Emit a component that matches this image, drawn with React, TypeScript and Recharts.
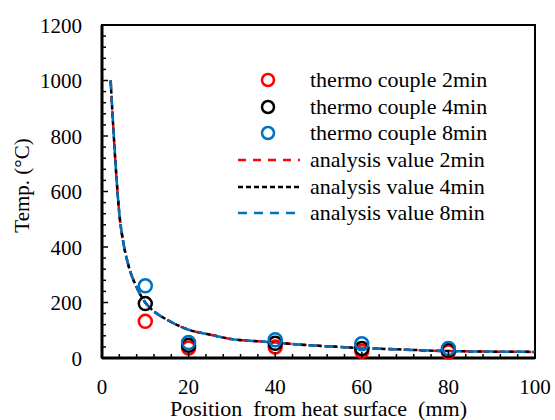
import { ComposedChart, Line, Scatter, XAxis, YAxis, ReferenceArea, Legend, Label } from 'recharts';

const FONT = '"Liberation Serif", Tinos, "DejaVu Serif", serif';

// measured positions (mm) and temperatures (°C)
const probeX = [10, 20, 40, 60, 80];
const couple2min = [132, 36, 40, 24, 22];
const couple4min = [196, 46, 53, 34, 28];
const couple8min = [260, 56, 66, 51, 34];

// analysis curves
const analysisX = [2, 3, 4, 5, 6, 8, 10, 12, 15, 20, 25, 30, 35, 40, 45, 50, 60, 70, 80, 90, 100];
const analysis2min = [1000, 730, 520, 410, 340, 255, 200, 168, 138, 102, 84, 68, 61, 56, 49, 44, 36, 30, 25, 23, 22];
const analysis4min = [1000, 730, 520, 410, 340, 255, 200, 168, 138, 102, 84, 68, 61, 56, 49, 44, 36, 30, 25, 23, 22];
const analysis8min = [1000, 730, 520, 410, 340, 255, 200, 168, 138, 102, 84, 68, 61, 56, 49, 44, 36, 30, 25, 23, 22];

const xTicks = Array.from({ length: 26 }, (_, i) => i * 4);
const yTicks = Array.from({ length: 31 }, (_, i) => i * 40);

const legendItems = [
  { label: 'thermo couple 2min', color: '#ff0000', kind: 'circle' },
  { label: 'thermo couple 4min', color: '#000000', kind: 'circle' },
  { label: 'thermo couple 8min', color: '#0070c0', kind: 'circle' },
  { label: 'analysis value 2min', color: '#ff0000', kind: 'line', dash: '8 7' },
  { label: 'analysis value 4min', color: '#000000', kind: 'line', dash: '5 3' },
  { label: 'analysis value 8min', color: '#0070c0', kind: 'line', dash: '9 7' },
];

const toPoints = (xs: number[], ys: number[]) => xs.map((x, i) => ({ x, y: ys[i] }));

const XTick = (props: any) => {
  const { x, y, payload } = props;
  const major = payload.value % 20 === 0;
  return (
    <g>
      <line x1={x} x2={x} y1={y} y2={y - (major ? 6 : 4)} stroke="#000" strokeWidth={1.5} />
      {major && (
        <text x={x} y={y + 36} textAnchor="middle" fontSize={21} style={{ fontFamily: FONT }} fill="#000">
          {payload.value}
        </text>
      )}
    </g>
  );
};

const YTick = (props: any) => {
  const { x, y, payload } = props;
  const major = payload.value % 200 === 0;
  return (
    <g>
      <line x1={x} x2={x + (major ? 6 : 4)} y1={y} y2={y} stroke="#000" strokeWidth={1.5} />
      {major && (
        <text x={x - 20} y={y + 7.5} textAnchor="end" fontSize={21} style={{ fontFamily: FONT }} fill="#000">
          {payload.value}
        </text>
      )}
    </g>
  );
};

const ring = (color: string) => (props: any) => (
  <circle cx={props.cx} cy={props.cy} r={6.5} fill="none" stroke={color} strokeWidth={2.5} />
);

const LegendBox = () => (
  <div style={{ fontFamily: FONT, fontSize: 22, color: '#000' }}>
    {legendItems.map((it) => (
      <div key={it.label} style={{ display: 'flex', alignItems: 'center', height: 26.7 }}>
        <svg width={72} height={20} style={{ flex: 'none' }}>
          {it.kind === 'circle' ? (
            <circle cx={30} cy={10} r={6} fill="none" stroke={it.color} strokeWidth={2.5} />
          ) : (
            <line x1={0} x2={62} y1={10} y2={10} stroke={it.color} strokeWidth={2.5} strokeDasharray={it.dash} />
          )}
        </svg>
        <span style={{ whiteSpace: 'nowrap', lineHeight: 1 }}>{it.label}</span>
      </div>
    ))}
  </div>
);

export default function App() {
  return (
    <div style={{ position: 'absolute', left: 0, top: 0, width: 555, height: 420, background: '#fff', fontFamily: FONT }}>
      <ComposedChart width={555} height={420} margin={{ top: 25, right: 20, bottom: 0, left: 0 }} style={{ fontFamily: FONT }}>
        <XAxis
          type="number"
          dataKey="x"
          domain={[0, 100]}
          ticks={xTicks}
          interval={0}
          tickSize={0}
          tickMargin={0}
          tickLine={false}
          tick={<XTick />}
          axisLine={{ stroke: '#000', strokeWidth: 3 }}
          height={62}
          allowDuplicatedCategory={false}
        >
          <Label
            content={({ viewBox }: any) => (
              <text
                x={viewBox.x + viewBox.width / 2}
                y={viewBox.y + 58}
                textAnchor="middle"
                fontSize={22}
                fill="#000"
                style={{ whiteSpace: 'pre', fontFamily: FONT }}
              >
                {'Position  from heat surface  (mm)'}
              </text>
            )}
          />
        </XAxis>
        <YAxis
          type="number"
          dataKey="y"
          domain={[0, 1200]}
          ticks={yTicks}
          interval={0}
          tickSize={0}
          tickMargin={0}
          tickLine={false}
          tick={<YTick />}
          axisLine={{ stroke: '#000', strokeWidth: 3 }}
          width={102}
        >
          <Label
            content={({ viewBox }: any) => {
              const cx = 22;
              const cy = viewBox.y + viewBox.height / 2 - 6;
              return (
                <text
                  x={cx}
                  y={cy}
                  transform={`rotate(-90 ${cx} ${cy})`}
                  textAnchor="middle"
                  dominantBaseline="central"
                  fontSize={21}
                  style={{ fontFamily: FONT }}
                  fill="#000"
                >
                  Temp. (°C)
                </text>
              );
            }}
          />
        </YAxis>
        <ReferenceArea x1={0} x2={100} y1={0} y2={1200} fill="none" stroke="#000" strokeWidth={2} />
        <Line
          data={toPoints(analysisX, analysis2min)}
          dataKey="y"
          type="monotone"
          stroke="#ff0000"
          strokeWidth={2.5}
          strokeDasharray="8 7"
          dot={false}
          isAnimationActive={false}
        />
        <Line
          data={toPoints(analysisX, analysis4min)}
          dataKey="y"
          type="monotone"
          stroke="#000000"
          strokeWidth={2.5}
          strokeDasharray="5 3"
          dot={false}
          isAnimationActive={false}
        />
        <Line
          data={toPoints(analysisX, analysis8min)}
          dataKey="y"
          type="monotone"
          stroke="#0070c0"
          strokeWidth={2.5}
          strokeDasharray="9 7"
          dot={false}
          isAnimationActive={false}
        />
        <Scatter data={toPoints(probeX, couple2min)} dataKey="y" shape={ring('#ff0000')} isAnimationActive={false} />
        <Scatter data={toPoints(probeX, couple4min)} dataKey="y" shape={ring('#000000')} isAnimationActive={false} />
        <Scatter data={toPoints(probeX, couple8min)} dataKey="y" shape={ring('#0070c0')} isAnimationActive={false} />
        <Legend
          layout="horizontal"
          verticalAlign="middle"
          align="center"
          content={<LegendBox />}
          wrapperStyle={{ position: 'absolute', left: 238, top: 66.7, width: 300, height: 162 }}
        />
      </ComposedChart>
    </div>
  );
}
